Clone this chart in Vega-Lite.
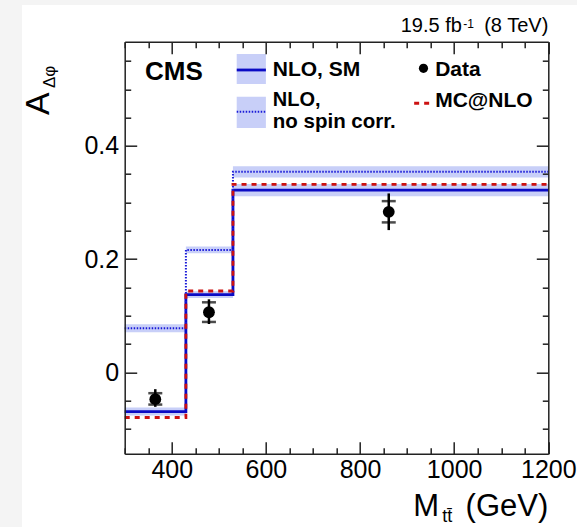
{
  "$schema": "https://vega.github.io/schema/vega-lite/v6.json",
  "width": 423.6,
  "height": 412,
  "autosize": {"type": "none"},
  "padding": {"left": 124.7, "top": 41.7, "right": 28.7, "bottom": 73.3},
  "background": "#f4f4f4",
  "config": {"view": {"stroke": null}, "font": "Liberation Sans"},
  "datasets": {
    "one": [{}],
    "theory": [
      {"model": "SM", "bin": 1, "lo": 300, "hi": 430, "val": -0.0695, "band_lo": -0.0765, "band_hi": -0.0625},
      {"model": "SM", "bin": 2, "lo": 430, "hi": 530, "val": 0.137, "band_lo": 0.131, "band_hi": 0.143},
      {"model": "SM", "bin": 3, "lo": 530, "hi": 1200, "val": 0.3217, "band_lo": 0.3107, "band_hi": 0.3327},
      {"model": "NoSpin", "bin": 1, "lo": 300, "hi": 430, "val": 0.0776, "band_lo": 0.0706, "band_hi": 0.0846},
      {"model": "NoSpin", "bin": 2, "lo": 430, "hi": 530, "val": 0.216, "band_lo": 0.21, "band_hi": 0.222},
      {"model": "NoSpin", "bin": 3, "lo": 530, "hi": 1200, "val": 0.354, "band_lo": 0.344, "band_hi": 0.364},
      {"model": "MCatNLO", "bin": 1, "lo": 300, "hi": 430, "val": -0.08, "band_lo": null, "band_hi": null},
      {"model": "MCatNLO", "bin": 2, "lo": 430, "hi": 530, "val": 0.1435, "band_lo": null, "band_hi": null},
      {"model": "MCatNLO", "bin": 3, "lo": 530, "hi": 1200, "val": 0.332, "band_lo": null, "band_hi": null}
    ],
    "meas": [
      {"m": 365, "a": -0.0476, "stat_lo": -0.0572, "stat_hi": -0.0371, "tot_lo": -0.0612, "tot_hi": -0.03},
      {"m": 479, "a": 0.1059, "stat_lo": 0.0888, "stat_hi": 0.1235, "tot_lo": 0.0852, "tot_hi": 0.1288},
      {"m": 861, "a": 0.2834, "stat_lo": 0.2647, "stat_hi": 0.3023, "tot_lo": 0.2511, "tot_hi": 0.3159}
    ]
  },
  "layer": [
    {
      "data": {"name": "one"},
      "mark": {"type": "rect", "fill": "white"},
      "encoding": {
        "x": {"datum": 81.7, "type": "quantitative", "scale": {"domain": [300, 1200]}, "axis": null},
        "x2": {"datum": 1261.5},
        "y": {"datum": 0.6489, "type": "quantitative", "scale": {"domain": [-0.144, 0.584]}, "axis": null},
        "y2": {"datum": -0.2736}
      }
    },
    {
      "data": {"name": "theory"},
      "transform": [{"filter": "datum.band_lo != null"}],
      "mark": {"type": "rect", "fill": "#9aa8f2", "opacity": 0.55},
      "encoding": {
        "x": {"field": "lo", "type": "quantitative", "scale": {"domain": [300, 1200]},
          "axis": {"orient": "bottom", "values": [300,350,400,450,500,550,600,650,700,750,800,850,900,950,1000,1050,1100,1150,1200],
            "labelExpr": "datum.value % 200 === 0 ? datum.label : ''", "format": "d",
            "tickSize": {"condition": {"test": "datum.value % 200 === 0", "value": -12}, "value": -6},
            "tickColor": "#222", "tickWidth": 1.5, "domainColor": "#222", "domainWidth": 1.5,
            "labelFont": "Liberation Sans", "labelFontSize": 25, "labelColor": "#000",
            "labelFlush": false, "labelOverlap": false, "labelBound": false, "labelPadding": 16,
            "title": null, "grid": false, "zindex": 1}},
        "x2": {"field": "hi"},
        "y": {"field": "band_lo", "type": "quantitative", "scale": {"domain": [-0.144, 0.584]},
          "axis": {"orient": "left", "values": [-0.1,-0.05,0,0.05,0.1,0.15,0.2,0.25,0.3,0.35,0.4,0.45,0.5,0.55],
            "labelExpr": "abs(datum.value*5 - round(datum.value*5)) < 1e-6 ? datum.label : ''", "format": ".1~f",
            "tickSize": {"condition": {"test": "abs(datum.value*5 - round(datum.value*5)) < 1e-6", "value": -12}, "value": -6},
            "tickColor": "#222", "tickWidth": 1.5, "domainColor": "#222", "domainWidth": 1.5,
            "labelFont": "Liberation Sans", "labelFontSize": 25, "labelColor": "#000",
            "labelFlush": false, "labelOverlap": false, "labelBound": false, "labelPadding": 18,
            "title": null, "grid": false, "zindex": 1}},
        "y2": {"field": "band_hi"}
      }
    },
    {
      "data": {"name": "theory"},
      "transform": [{"filter": "datum.model === 'SM'"}, {"fold": ["lo", "hi"], "as": ["edge", "xe"]}],
      "mark": {"type": "line", "stroke": "#0b0bc4", "strokeWidth": 2.8},
      "encoding": {
        "x": {"field": "xe", "type": "quantitative", "scale": {"domain": [300, 1200]}, "axis": null},
        "y": {"field": "val", "type": "quantitative", "scale": {"domain": [-0.144, 0.584]}, "axis": null},
        "order": [{"field": "bin", "type": "quantitative"}, {"field": "edge", "type": "nominal", "sort": "descending"}]
      }
    },
    {
      "data": {"name": "theory"},
      "transform": [{"filter": "datum.model === 'NoSpin'"}, {"fold": ["lo", "hi"], "as": ["edge", "xe"]}],
      "mark": {"type": "line", "stroke": "#1a1ad8", "strokeWidth": 2, "strokeDash": [1.5, 1.5]},
      "encoding": {
        "x": {"field": "xe", "type": "quantitative", "scale": {"domain": [300, 1200]}, "axis": null},
        "y": {"field": "val", "type": "quantitative", "scale": {"domain": [-0.144, 0.584]}, "axis": null},
        "order": [{"field": "bin", "type": "quantitative"}, {"field": "edge", "type": "nominal", "sort": "descending"}]
      }
    },
    {
      "data": {"name": "theory"},
      "transform": [{"filter": "datum.model === 'MCatNLO'"}, {"fold": ["lo", "hi"], "as": ["edge", "xe"]}],
      "mark": {"type": "line", "stroke": "#cc1111", "strokeWidth": 2.8, "strokeDash": [5, 5]},
      "encoding": {
        "x": {"field": "xe", "type": "quantitative", "scale": {"domain": [300, 1200]}, "axis": null},
        "y": {"field": "val", "type": "quantitative", "scale": {"domain": [-0.144, 0.584]}, "axis": null},
        "order": [{"field": "bin", "type": "quantitative"}, {"field": "edge", "type": "nominal", "sort": "descending"}]
      }
    },
    {
      "data": {"name": "meas"},
      "mark": {"type": "rule", "color": "#000", "strokeWidth": 2.5},
      "encoding": {
        "x": {"field": "m", "type": "quantitative", "scale": {"domain": [300, 1200]}, "axis": null},
        "y": {"field": "tot_lo", "type": "quantitative", "scale": {"domain": [-0.144, 0.584]}, "axis": null},
        "y2": {"field": "tot_hi"}
      }
    },
    {
      "data": {"name": "meas"},
      "transform": [{"fold": ["stat_lo", "stat_hi"], "as": ["end", "yv"]}],
      "mark": {"type": "tick", "orient": "horizontal", "color": "#000", "size": 14, "thickness": 2.5},
      "encoding": {
        "x": {"field": "m", "type": "quantitative", "scale": {"domain": [300, 1200]}, "axis": null},
        "y": {"field": "yv", "type": "quantitative", "scale": {"domain": [-0.144, 0.584]}, "axis": null}
      }
    },
    {
      "data": {"name": "meas"},
      "mark": {"type": "circle", "color": "#000", "opacity": 1, "size": 140},
      "encoding": {
        "x": {"field": "m", "type": "quantitative", "scale": {"domain": [300, 1200]},
          "axis": {"orient": "top", "values": [300,350,400,450,500,550,600,650,700,750,800,850,900,950,1000,1050,1100,1150,1200],
            "labels": false,
            "tickSize": {"condition": {"test": "datum.value % 200 === 0", "value": -12}, "value": -6},
            "tickColor": "#222", "tickWidth": 1.5, "domainColor": "#222", "domainWidth": 1.5,
            "title": null, "grid": false, "zindex": 1}},
        "y": {"field": "a", "type": "quantitative", "scale": {"domain": [-0.144, 0.584]},
          "axis": {"orient": "right", "values": [-0.1,-0.05,0,0.05,0.1,0.15,0.2,0.25,0.3,0.35,0.4,0.45,0.5,0.55],
            "labels": false,
            "tickSize": {"condition": {"test": "abs(datum.value*5 - round(datum.value*5)) < 1e-6", "value": -12}, "value": -6},
            "tickColor": "#222", "tickWidth": 1.5, "domainColor": "#222", "domainWidth": 1.5,
            "title": null, "grid": false, "zindex": 1}}
      }
    },
    {
      "data": {"name": "one"},
      "mark": {"type": "rect", "fill": "#9aa8f2", "opacity": 0.55},
      "encoding": {
        "x": {"datum": 538, "type": "quantitative", "scale": {"domain": [300, 1200]}, "axis": null},
        "x2": {"datum": 600},
        "y": {"datum": 0.5093, "type": "quantitative", "scale": {"domain": [-0.144, 0.584]}, "axis": null},
        "y2": {"datum": 0.5623}
      }
    },
    {
      "data": {"name": "one"},
      "mark": {"type": "rect", "fill": "#9aa8f2", "opacity": 0.55},
      "encoding": {
        "x": {"datum": 538, "type": "quantitative", "scale": {"domain": [300, 1200]}, "axis": null},
        "x2": {"datum": 600},
        "y": {"datum": 0.4315, "type": "quantitative", "scale": {"domain": [-0.144, 0.584]}, "axis": null},
        "y2": {"datum": 0.4868}
      }
    },
    {
      "data": {"name": "one"},
      "mark": {"type": "rule", "stroke": "#0b0bc4", "strokeWidth": 2.8},
      "encoding": {
        "x": {"datum": 538, "type": "quantitative", "scale": {"domain": [300, 1200]}, "axis": null},
        "x2": {"datum": 600},
        "y": {"datum": 0.534, "type": "quantitative", "scale": {"domain": [-0.144, 0.584]}, "axis": null}
      }
    },
    {
      "data": {"name": "one"},
      "mark": {"type": "rule", "stroke": "#1a1ad8", "strokeWidth": 2, "strokeDash": [1.5, 1.5]},
      "encoding": {
        "x": {"datum": 538, "type": "quantitative", "scale": {"domain": [300, 1200]}, "axis": null},
        "x2": {"datum": 600},
        "y": {"datum": 0.4603, "type": "quantitative", "scale": {"domain": [-0.144, 0.584]}, "axis": null}
      }
    },
    {
      "data": {"name": "one"},
      "mark": {"type": "rule", "stroke": "#cc1111", "strokeWidth": 2.8, "strokeDash": [5, 5]},
      "encoding": {
        "x": {"datum": 915, "type": "quantitative", "scale": {"domain": [300, 1200]}, "axis": null},
        "x2": {"datum": 947},
        "y": {"datum": 0.4752, "type": "quantitative", "scale": {"domain": [-0.144, 0.584]}, "axis": null}
      }
    },
    {
      "data": {"name": "one"},
      "mark": {"type": "circle", "color": "#000", "opacity": 1, "size": 85},
      "encoding": {
        "x": {"datum": 934.8, "type": "quantitative", "scale": {"domain": [300, 1200]}, "axis": null},
        "y": {"datum": 0.537, "type": "quantitative", "scale": {"domain": [-0.144, 0.584]}, "axis": null}
      }
    },
    {
      "data": {"name": "one"},
      "mark": {"type": "text", "text": "CMS", "font": "Liberation Sans", "fontWeight": "bold", "fontSize": 26, "align": "left", "baseline": "alphabetic", "color": "#000"},
      "encoding": {
        "x": {"datum": 343.2, "type": "quantitative", "scale": {"domain": [300, 1200]}, "axis": null},
        "y": {"datum": 0.5163, "type": "quantitative", "scale": {"domain": [-0.144, 0.584]}, "axis": null}
      }
    },
    {
      "data": {"name": "one"},
      "mark": {"type": "text", "text": "NLO, SM", "font": "Liberation Sans", "fontWeight": "bold", "fontSize": 21, "align": "left", "baseline": "alphabetic", "color": "#000"},
      "encoding": {
        "x": {"datum": 614.6, "type": "quantitative", "scale": {"domain": [300, 1200]}, "axis": null},
        "y": {"datum": 0.5234, "type": "quantitative", "scale": {"domain": [-0.144, 0.584]}, "axis": null}
      }
    },
    {
      "data": {"name": "one"},
      "mark": {"type": "text", "text": "NLO,", "font": "Liberation Sans", "fontWeight": "bold", "fontSize": 20, "align": "left", "baseline": "alphabetic", "color": "#000"},
      "encoding": {
        "x": {"datum": 614.6, "type": "quantitative", "scale": {"domain": [300, 1200]}, "axis": null},
        "y": {"datum": 0.4704, "type": "quantitative", "scale": {"domain": [-0.144, 0.584]}, "axis": null}
      }
    },
    {
      "data": {"name": "one"},
      "mark": {"type": "text", "text": "no spin corr.", "font": "Liberation Sans", "fontWeight": "bold", "fontSize": 20.5, "align": "left", "baseline": "alphabetic", "color": "#000"},
      "encoding": {
        "x": {"datum": 614.6, "type": "quantitative", "scale": {"domain": [300, 1200]}, "axis": null},
        "y": {"datum": 0.4315, "type": "quantitative", "scale": {"domain": [-0.144, 0.584]}, "axis": null}
      }
    },
    {
      "data": {"name": "one"},
      "mark": {"type": "text", "text": "Data", "font": "Liberation Sans", "fontWeight": "bold", "fontSize": 21, "align": "left", "baseline": "alphabetic", "color": "#000"},
      "encoding": {
        "x": {"datum": 959.6, "type": "quantitative", "scale": {"domain": [300, 1200]}, "axis": null},
        "y": {"datum": 0.5234, "type": "quantitative", "scale": {"domain": [-0.144, 0.584]}, "axis": null}
      }
    },
    {
      "data": {"name": "one"},
      "mark": {"type": "text", "text": "MC@NLO", "font": "Liberation Sans", "fontWeight": "bold", "fontSize": 21, "align": "left", "baseline": "alphabetic", "color": "#000"},
      "encoding": {
        "x": {"datum": 959.6, "type": "quantitative", "scale": {"domain": [300, 1200]}, "axis": null},
        "y": {"datum": 0.4681, "type": "quantitative", "scale": {"domain": [-0.144, 0.584]}, "axis": null}
      }
    },
    {
      "data": {"name": "one"},
      "mark": {"type": "text", "text": "19.5 fb", "font": "Liberation Sans", "fontSize": 20, "align": "right", "baseline": "alphabetic", "color": "#000"},
      "encoding": {
        "x": {"datum": 1016.4, "type": "quantitative", "scale": {"domain": [300, 1200]}, "axis": null},
        "y": {"datum": 0.6017, "type": "quantitative", "scale": {"domain": [-0.144, 0.584]}, "axis": null}
      }
    },
    {
      "data": {"name": "one"},
      "mark": {"type": "text", "text": "-1", "font": "Liberation Sans", "fontSize": 12, "align": "left", "baseline": "alphabetic", "color": "#000"},
      "encoding": {
        "x": {"datum": 1019.2, "type": "quantitative", "scale": {"domain": [300, 1200]}, "axis": null},
        "y": {"datum": 0.6089, "type": "quantitative", "scale": {"domain": [-0.144, 0.584]}, "axis": null}
      }
    },
    {
      "data": {"name": "one"},
      "mark": {"type": "text", "text": "(8 TeV)", "font": "Liberation Sans", "fontSize": 20, "align": "right", "baseline": "alphabetic", "color": "#000"},
      "encoding": {
        "x": {"datum": 1200, "type": "quantitative", "scale": {"domain": [300, 1200]}, "axis": null},
        "y": {"datum": 0.6017, "type": "quantitative", "scale": {"domain": [-0.144, 0.584]}, "axis": null}
      }
    },
    {
      "data": {"name": "one"},
      "mark": {"type": "text", "text": "M", "font": "Liberation Sans", "fontSize": 31, "align": "left", "baseline": "alphabetic", "color": "#000"},
      "encoding": {
        "x": {"datum": 913, "type": "quantitative", "scale": {"domain": [300, 1200]}, "axis": null},
        "y": {"datum": -0.2541, "type": "quantitative", "scale": {"domain": [-0.144, 0.584]}, "axis": null}
      }
    },
    {
      "data": {"name": "one"},
      "mark": {"type": "text", "text": "tt̄", "font": "Liberation Sans", "fontSize": 18, "align": "left", "baseline": "alphabetic", "color": "#000"},
      "encoding": {
        "x": {"datum": 974.5, "type": "quantitative", "scale": {"domain": [300, 1200]}, "axis": null},
        "y": {"datum": -0.2647, "type": "quantitative", "scale": {"domain": [-0.144, 0.584]}, "axis": null}
      }
    },
    {
      "data": {"name": "one"},
      "mark": {"type": "text", "text": "(GeV)", "font": "Liberation Sans", "fontSize": 31, "align": "right", "baseline": "alphabetic", "color": "#000"},
      "encoding": {
        "x": {"datum": 1200, "type": "quantitative", "scale": {"domain": [300, 1200]}, "axis": null},
        "y": {"datum": -0.2541, "type": "quantitative", "scale": {"domain": [-0.144, 0.584]}, "axis": null}
      }
    },
    {
      "data": {"name": "one"},
      "mark": {"type": "text", "text": "A", "font": "Liberation Sans", "fontSize": 34, "angle": 270, "align": "left", "baseline": "alphabetic", "color": "#000"},
      "encoding": {
        "x": {"datum": 139, "type": "quantitative", "scale": {"domain": [300, 1200]}, "axis": null},
        "y": {"datum": 0.4545, "type": "quantitative", "scale": {"domain": [-0.144, 0.584]}, "axis": null}
      }
    },
    {
      "data": {"name": "one"},
      "mark": {"type": "text", "text": "Δφ", "font": "Liberation Sans", "fontSize": 17, "angle": 270, "align": "left", "baseline": "alphabetic", "color": "#000"},
      "encoding": {
        "x": {"datum": 151.8, "type": "quantitative", "scale": {"domain": [300, 1200]}, "axis": null},
        "y": {"datum": 0.5022, "type": "quantitative", "scale": {"domain": [-0.144, 0.584]}, "axis": null}
      }
    }
  ],
  "resolve": {"axis": {"x": "independent", "y": "independent"}}
}
